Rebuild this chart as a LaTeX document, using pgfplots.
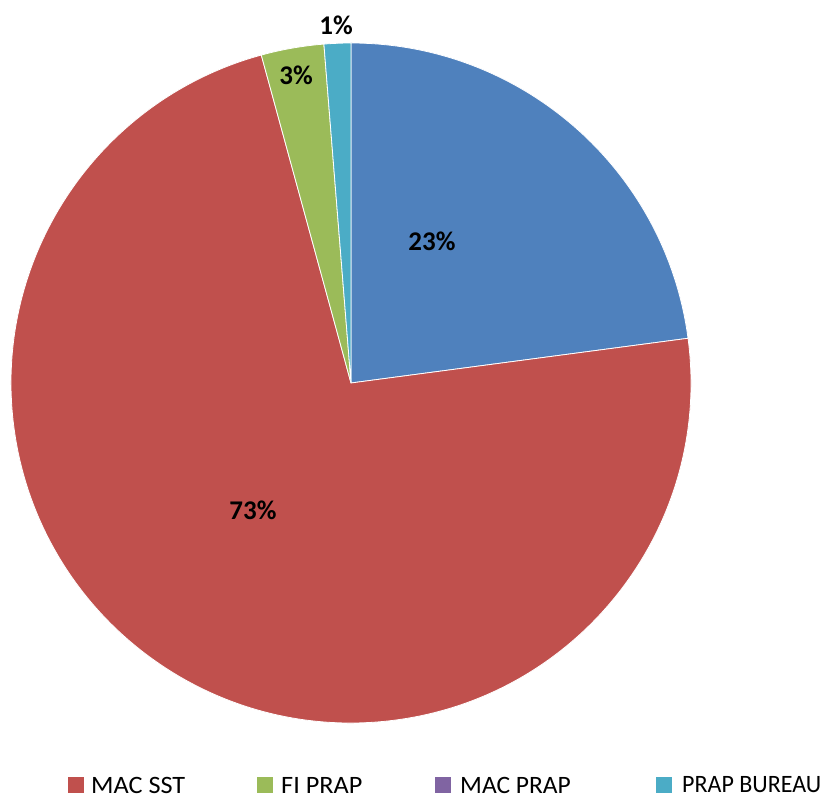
\documentclass[border=0pt]{standalone}
\usepackage{pgfplots}
\pgfplotsset{compat=1.18}
\usepackage{fontspec}
\setmainfont{Carlito}
\definecolor{cblue}{HTML}{4F81BD}
\definecolor{cred}{HTML}{C0504D}
\definecolor{cgreen}{HTML}{9BBB59}
\definecolor{cpurple}{HTML}{8064A2}
\definecolor{ccyan}{HTML}{4BACC6}
% percentages of each category
\def\vBlue{22.90}
\def\vRed{72.85}
\def\vGreen{2.98}
\def\vPurple{0}
\def\vCyan{1.27}
\begin{document}
\begin{tikzpicture}
\pgfmathsetmacro{\aA}{90}
\pgfmathsetmacro{\aB}{\aA-3.6*\vBlue}
\pgfmathsetmacro{\aC}{\aB-3.6*\vRed}
\pgfmathsetmacro{\aD}{\aC-3.6*\vGreen}
\pgfmathsetmacro{\aE}{\aD-3.6*\vPurple}
\pgfmathsetmacro{\aF}{\aE-3.6*\vCyan}
\begin{axis}[scale only axis, width=832pt, height=798pt,
  xmin=0, xmax=832, ymin=0, ymax=798, hide axis, clip=false]
\addplot[draw=none] coordinates {(0,0) (832,798)};
\fill[cblue, draw=white, line width=0.8pt] (axis cs:351,415) -- ++(\aA:340pt) arc[start angle=\aA, end angle=\aB, radius=340pt] -- cycle;
\fill[cred, draw=white, line width=0.8pt] (axis cs:351,415) -- ++(\aB:340pt) arc[start angle=\aB, end angle=\aC, radius=340pt] -- cycle;
\fill[cgreen, draw=white, line width=0.8pt] (axis cs:351,415) -- ++(\aC:340pt) arc[start angle=\aC, end angle=\aD, radius=340pt] -- cycle;
\fill[ccyan, draw=white, line width=0.8pt] (axis cs:351,415) -- ++(\aE:340pt) arc[start angle=\aE, end angle=\aF, radius=340pt] -- cycle;
% data labels
\node[font=\fontsize{27}{32}\selectfont\bfseries] at (axis cs:432,557) {23\%};
\node[font=\fontsize{27}{32}\selectfont\bfseries] at (axis cs:253,288) {73\%};
\node[font=\fontsize{27}{32}\selectfont\bfseries] at (axis cs:296,723) {3\%};
\node[font=\fontsize{27}{32}\selectfont\bfseries] at (axis cs:336,773) {1\%};
% legend
\fill[cred] (axis cs:68,5) rectangle (axis cs:84,21);
\node[anchor=west, inner sep=0pt, font=\fontsize{25}{30}\selectfont] at (axis cs:91,13) {\scalebox{1.05}[1]{MAC SST}};
\fill[cgreen] (axis cs:257,5) rectangle (axis cs:273,21);
\node[anchor=west, inner sep=0pt, font=\fontsize{25}{30}\selectfont] at (axis cs:281,13) {\scalebox{1.05}[1]{FI PRAP}};
\fill[cpurple] (axis cs:435,5) rectangle (axis cs:451,21);
\node[anchor=west, inner sep=0pt, font=\fontsize{25}{30}\selectfont] at (axis cs:460,13) {\scalebox{1.02}[1]{MAC PRAP}};
\fill[ccyan] (axis cs:656,5) rectangle (axis cs:672,21);
\node[anchor=west, inner sep=0pt, font=\fontsize{25}{30}\selectfont] at (axis cs:682,13) {\scalebox{0.96}[1]{PRAP BUREAU}};
\end{axis}
\pgfresetboundingbox
\useasboundingbox (current axis.south west) rectangle (current axis.north east);
\end{tikzpicture}
\end{document}
